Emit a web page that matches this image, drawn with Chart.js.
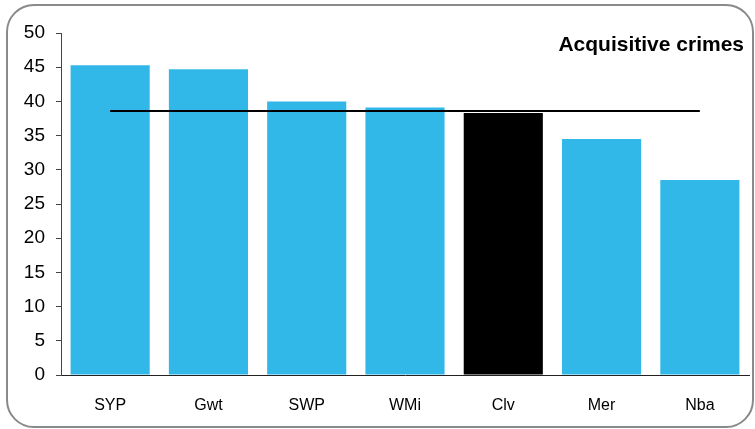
<!DOCTYPE html>
<html>
<head>
<meta charset="utf-8">
<script src="https://cdn.jsdelivr.net/npm/chart.js@4.4.0/dist/chart.umd.min.js"></script>
<style>
    html, body { margin: 0; padding: 0; background: #fff; }
    #wrap { position: relative; width: 755px; height: 429px; }
    #frame {
        position: absolute; left: 6px; top: 4px; width: 744px; height: 420px;
        border: 2px solid #8a8a8a; border-radius: 28px;
    }
    #chart { position: absolute; left: 0; top: 0; }
</style>
</head>
<body>
<div id="wrap">
    <div id="frame"></div>
    <canvas id="chart" width="755" height="429"></canvas>
</div>
<script>
const forces = ["SYP", "Gwt", "SWP", "WMi", "Clv", "Mer", "Nba"];
const crimeRates = [45.3, 44.7, 40.0, 39.1, 38.3, 34.5, 28.5];
const averageRate = 38.6;
const yTicks = [0, 5, 10, 15, 20, 25, 30, 35, 40, 45, 50];

const barColors = forces.map(f => f === "Clv" ? "#000000" : "#32b8e8");

const titlePlugin = {
    id: "cornerTitle",
    afterDraw(chart) {
        const ctx = chart.ctx;
        ctx.save();
        ctx.font = "bold 21px 'Liberation Sans', Arial, sans-serif";
        ctx.fillStyle = "#000";
        ctx.textAlign = "right";
        ctx.textBaseline = "middle";
        ctx.fillText("Acquisitive crimes", 744, 45);
        ctx.restore();
    }
};

new Chart(document.getElementById("chart"), {
    type: "bar",
    data: {
        labels: forces,
        datasets: [
            {
                type: "line",
                data: forces.map(() => averageRate),
                borderColor: "#000",
                borderWidth: 2,
                pointRadius: 0,
                order: 0
            },
            {
                data: crimeRates,
                backgroundColor: barColors,
                barPercentage: 0.805,
                categoryPercentage: 1.0,
                order: 1
            }
        ]
    },
    options: {
        responsive: false,
        animation: false,
        layout: { padding: { left: 0, top: 33, right: 6, bottom: 0 } },
        plugins: {
            legend: { display: false },
            tooltip: { enabled: false }
        },
        scales: {
            x: {
                grid: { display: false, drawTicks: false },
                border: { display: true, color: "#222", width: 1 },
                ticks: {
                    padding: 21,
                    color: "#000",
                    font: { family: "'Liberation Sans', Arial, sans-serif", size: 16 }
                },
                afterFit: scale => { scale.height = 54; }
            },
            y: {
                min: 0,
                max: 50,
                afterBuildTicks: scale => { scale.ticks = yTicks.map(v => ({ value: v })); },
                grid: { drawOnChartArea: false, drawTicks: true, tickLength: 5, color: "#444" },
                border: { display: true, color: "#444", width: 1 },
                ticks: {
                    padding: 11,
                    color: "#000",
                    font: { family: "'Liberation Sans', Arial, sans-serif", size: 19 }
                },
                afterFit: scale => { scale.width = 61; }
            }
        }
    },
    plugins: [titlePlugin]
});
</script>
</body>
</html>
